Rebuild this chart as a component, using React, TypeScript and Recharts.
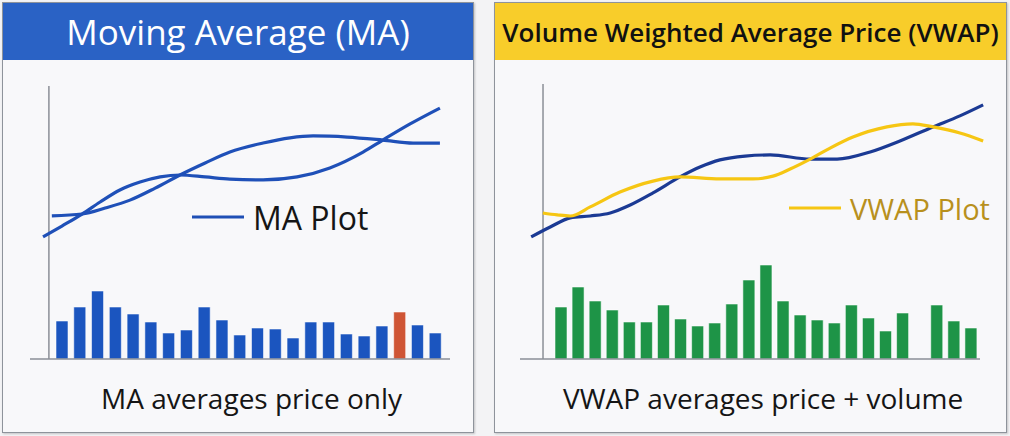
import React from 'react'
import { BarChart, Bar, Cell, LineChart, Line, XAxis, YAxis, ReferenceLine } from 'recharts'

// Moving Average panel: time index (0-100) against smoothed price
const maFastTime = [3.1, 7.6, 12.4, 16.7, 21.4, 26.2, 31.0, 35.7, 41.7, 47.6, 55.5, 63.6, 71.4, 79.3, 84.0, 90.5, 97.6]
const maFastPrice = [44.7, 48.7, 53.1, 57.5, 61.9, 64.8, 66.7, 67.4, 66.7, 65.9, 65.6, 66.7, 70.0, 75.8, 80.2, 86.1, 91.9]
const maSlowTime = [5.2, 12.4, 17.9, 23.8, 29.8, 35.7, 41.7, 47.6, 55.5, 61.9, 67.4, 75.5, 84.0, 91.2, 97.6]
const maSlowPrice = [52.4, 53.1, 55.3, 58.2, 62.6, 67.4, 71.8, 75.8, 79.1, 81.0, 81.7, 81.3, 80.2, 79.1, 79.1]
const maVolume = [38, 52, 68, 52, 45, 37, 26, 29, 52, 39, 24, 31, 30, 21, 37, 37, 25, 23, 33, 47, 34, 26]
const maHighlightBar = 19

// VWAP panel
const vwPriceTime = [2.4, 6.5, 10.8, 15.1, 19.4, 23.7, 28.6, 34.4, 38.7, 43.0, 48.4, 53.8, 62.4, 68.2, 75.3, 81.7, 88.8, 94.6, 99.6]
const vwPrice = [44.4, 48.0, 51.3, 52.0, 53.1, 56.0, 60.4, 66.2, 69.8, 72.4, 73.8, 74.2, 72.7, 72.7, 75.3, 79.3, 84.4, 88.4, 92.4]
const vwapTime = [4.9, 8.0, 10.8, 15.1, 21.5, 28.6, 34.4, 43.0, 50.1, 54.4, 58.1, 62.4, 66.7, 71.6, 78.9, 84.5, 88.8, 94.6, 99.6]
const vwapValue = [53.1, 52.4, 52.0, 55.3, 60.7, 64.7, 66.2, 65.5, 65.5, 66.5, 69.1, 72.7, 76.7, 80.7, 84.4, 85.5, 84.4, 82.2, 79.3]
const vwVolume = [52, 72, 58, 49, 37, 37, 54, 40, 33, 36, 55, 79, 94, 58, 44, 39, 36, 54, 41, 28, 46, null, 54, 38, 31]

const FONT = '"Open Sans", "Noto Sans", sans-serif'
const AXIS_GRAY = '#8b8f97'

const toPoints = (ts: number[], vs: number[]) => ts.map((t, i) => ({ t, v: vs[i] }))
const toBars = (vs: (number | null)[]) => vs.map((v, i) => ({ i, v }))

type Series = { data: { t: number; v: number }[]; color: string }

const PriceLines = ({ left, top, width, height, axisAt, series }: {
  left: number; top: number; width: number; height: number; axisAt: number; series: Series[]
}) => (
  <div style={{ position: 'absolute', left, top }}>
    <LineChart width={width} height={height} margin={{ top: 0, right: 0, bottom: 0, left: 0 }}>
      <XAxis type="number" dataKey="t" domain={[0, 100]} hide />
      <YAxis type="number" domain={[0, 100]} hide />
      <ReferenceLine x={axisAt} stroke={AXIS_GRAY} strokeWidth={1.5} />
      {series.map((s, k) => (
        <Line
          key={k}
          data={s.data}
          dataKey="v"
          type="monotone"
          stroke={s.color}
          strokeWidth={3.2}
          dot={false}
          activeDot={false}
          isAnimationActive={false}
        />
      ))}
    </LineChart>
  </div>
)

const VolumeBars = ({ left, top, width, height, data, color, padding, highlight }: {
  left: number; top: number; width: number; height: number
  data: { i: number; v: number | null }[]; color: string
  padding: { left: number; right: number }; highlight?: number
}) => (
  <div style={{ position: 'absolute', left, top }}>
    <BarChart width={width} height={height} data={data} margin={{ top: 0, right: 0, bottom: 0, left: 0 }}>
      <XAxis
        dataKey="i"
        height={1}
        tick={false}
        tickLine={false}
        axisLine={{ stroke: AXIS_GRAY, strokeWidth: 1.5 }}
        padding={padding}
      />
      <YAxis domain={[0, 100]} hide />
      <Bar dataKey="v" barSize={12} stroke="rgba(255,255,255,0.55)" strokeWidth={1} isAnimationActive={false}>
        {data.map((d) => (
          <Cell key={d.i} fill={d.i === highlight ? '#cf5535' : color} />
        ))}
      </Bar>
    </BarChart>
  </div>
)

const LegendKey = ({ left, top, color, textColor, label, fontSize }: {
  left: number; top: number; color: string; textColor: string; label: string; fontSize: number
}) => (
  <div style={{ position: 'absolute', left, top, display: 'flex', alignItems: 'center', height: 0 }}>
    <svg width={52} height={6} style={{ marginRight: 9 }}>
      <line x1={0} y1={3} x2={52} y2={3} stroke={color} strokeWidth={3.2} />
    </svg>
    <span style={{ fontFamily: FONT, fontSize, color: textColor, whiteSpace: 'nowrap' }}>{label}</span>
  </div>
)

const Panel = ({ left, width, title, headerBg, headerColor, titleSize, titleWeight, caption, captionLeft }: {
  left: number; width: number; title: string; headerBg: string; headerColor: string
  titleSize: number; titleWeight: number; caption: string; captionLeft: number
}) => (
  <div
    style={{
      position: 'absolute', left, top: 2, width, height: 431,
      border: '1px solid #8e939b', background: '#f8f8fa', boxSizing: 'border-box',
      boxShadow: '1px 1px 2px rgba(0,0,0,0.2)'
    }}
  >
    <div
      style={{
        height: 57, background: headerBg, color: headerColor, display: 'flex',
        alignItems: 'center', justifyContent: 'center', fontFamily: FONT,
        fontSize: titleSize, fontWeight: titleWeight, whiteSpace: 'nowrap'
      }}
    >
      {title}
    </div>
    <div
      style={{
        position: 'absolute', left: captionLeft, top: 376, fontFamily: FONT,
        fontSize: 28, color: '#151515', whiteSpace: 'nowrap'
      }}
    >
      {caption}
    </div>
  </div>
)

export default function App() {
  return (
    <div style={{ position: 'absolute', left: 0, top: 0, width: 1010, height: 436, background: '#f3f3f5', overflow: 'hidden' }}>
      <Panel
        left={2} width={472} title="Moving Average (MA)" headerBg="#2a62c5" headerColor="#ffffff"
        titleSize={35} titleWeight={500} caption="MA averages price only" captionLeft={98}
      />
      <Panel
        left={494} width={513} title="Volume Weighted Average Price (VWAP)" headerBg="#f8cd2a" headerColor="#111111"
        titleSize={26} titleWeight={600} caption="VWAP averages price + volume" captionLeft={68}
      />

      <VolumeBars
        left={30} top={259} width={420} height={101} data={toBars(maVolume)} color="#1b55bf"
        padding={{ left: 23, right: 6 }} highlight={maHighlightBar}
      />
      <PriceLines
        left={30} top={86} width={420} height={273} axisAt={4.5}
        series={[
          { data: toPoints(maSlowTime, maSlowPrice), color: '#1f50b8' },
          { data: toPoints(maFastTime, maFastPrice), color: '#1f50b8' }
        ]}
      />
      <LegendKey left={192} top={217} color="#1f4fb5" textColor="#151515" label="MA Plot" fontSize={32} />

      <VolumeBars
        left={520} top={259} width={460} height={101} data={toBars(vwVolume)} color="#1e9447"
        padding={{ left: 32, right: 1 }}
      />
      <PriceLines
        left={520} top={84} width={465} height={275} axisAt={4.95}
        series={[
          { data: toPoints(vwPriceTime, vwPrice), color: '#1b3a94' },
          { data: toPoints(vwapTime, vwapValue), color: '#f6c613' }
        ]}
      />
      <LegendKey left={789} top={208} color="#f6c613" textColor="#b8901d" label="VWAP Plot" fontSize={29} />
    </div>
  )
}
